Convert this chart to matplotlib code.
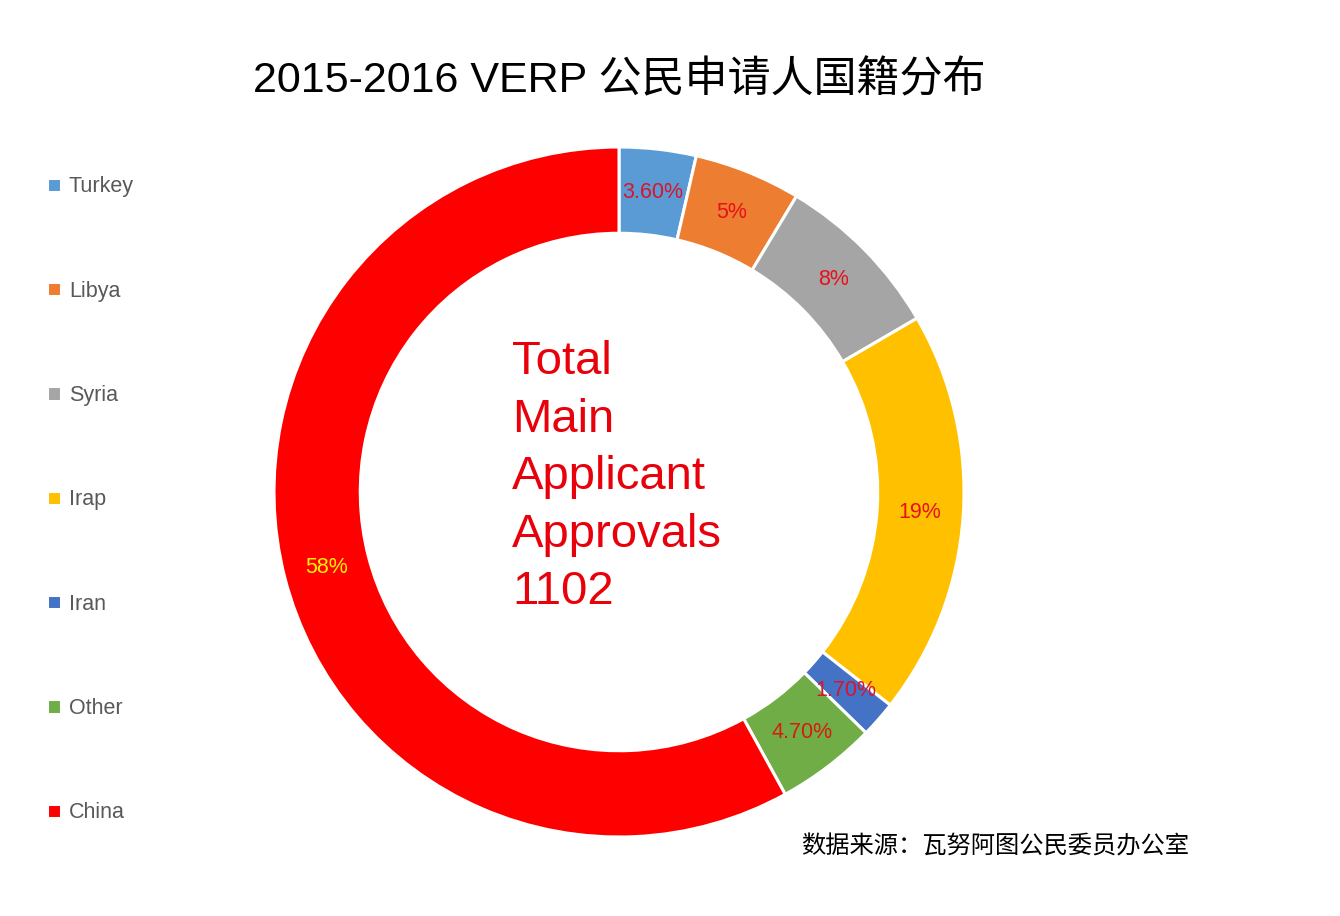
import numpy as np
import matplotlib
matplotlib.use('Agg')
import matplotlib.pyplot as plt

# data
countries = ['Turkey', 'Libya', 'Syria', 'Irap', 'Iran', 'Other', 'China']
shares = [3.6, 5, 8, 19, 1.7, 4.7, 58]
share_labels = ['3.60%', '5%', '8%', '19%', '1.70%', '4.70%', '58%']
colors = ['#5B9BD5', '#ED7D31', '#A5A5A5', '#FFC000', '#4472C4', '#70AD47', '#FF0000']
label_colors = ['#D9142B', '#E8101A', '#E8101A', '#E8101A', '#D9142B', '#D91A10', '#FFF200']
center_lines = ['Total', 'Main', 'Applicant', 'Approvals', '1102']

plt.rcParams['font.family'] = ['Liberation Sans', 'Noto Sans CJK SC', 'DejaVu Sans']

W, H = 1340, 916
fig = plt.figure(figsize=(W / 100, H / 100), dpi=100)

# donut axes: centre (619, 492) px, radius 345 px
cx, cy, r = 619, 492, 345
ax = fig.add_axes([(cx - r) / W, (H - cy - r) / H, 2 * r / W, 2 * r / H])
wedges, _ = ax.pie(shares, colors=colors, startangle=90, counterclock=False, radius=1,
                   wedgeprops=dict(width=0.25, edgecolor='white', linewidth=2.2))
ax.set_xlim(-1, 1)
ax.set_ylim(-1, 1)
ax.set_aspect('equal')
ax.axis('off')

# percentage labels in the middle of the ring
for w, lab, lc in zip(wedges, share_labels, label_colors):
    ang = np.deg2rad((w.theta1 + w.theta2) / 2)
    ax.text(0.875 * np.cos(ang), 0.875 * np.sin(ang), lab, color=lc,
            fontsize=15.5, ha='center', va='center')

# centre text
fig.text(512 / W, 1 - 340 / H, '\n'.join(center_lines), color='#E8000B', fontsize=34,
         ha='left', va='top', linespacing=1.4)

# title
fig.text(253 / W, 1 - 81 / H, '2015-2016 VERP 公民申请人国籍分布', fontsize=31,
         ha='left', va='center', color='black')

# legend
fig.legend(wedges, countries, loc='upper left', bbox_to_anchor=(28 / W, 1 - 157 / H),
           frameon=False, fontsize=15.5, labelcolor='#595959', labelspacing=3.87,
           handlelength=0.65, handleheight=0.65, handletextpad=0.35)

# source note
fig.text(801 / W, 1 - 846 / H, '数据来源：瓦努阿图公民委员办公室', fontsize=17.5,
         family=['Noto Sans CJK SC'], ha='left', va='center', color='black')

fig.savefig('out.png', dpi=100)
